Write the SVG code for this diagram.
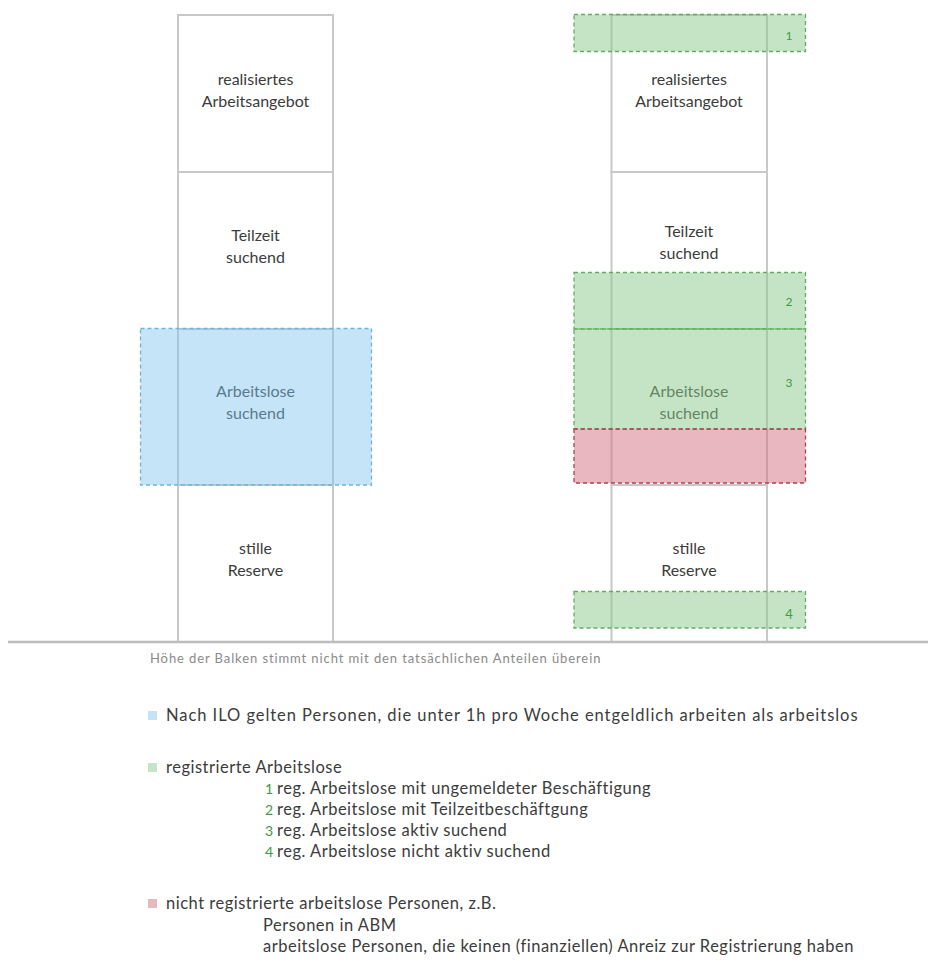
<svg xmlns="http://www.w3.org/2000/svg" width="928" height="965" viewBox="0 0 928 965">
<style>
  .bar{fill:#ffffff;stroke:#c8c8c8;stroke-width:2}
  .lbl{font-family:Lato,"Open Sans","Liberation Sans",sans-serif;font-size:16px;fill:#3c3c3c;text-anchor:middle}
  .blue{fill:#7ec4ef;fill-opacity:0.45;stroke:#6fb3e0;stroke-width:1.3;stroke-dasharray:4 3}
  .green{fill:#8cc98c;fill-opacity:0.5;stroke:#5fae5f;stroke-width:1.3;stroke-dasharray:4 3}
  .red{fill:#d4707f;fill-opacity:0.5;stroke:#b04050;stroke-width:1.3;stroke-dasharray:4 3}
  .num{font-family:Lato,"Open Sans","Liberation Sans",sans-serif;font-size:12px;fill:#3f9a3f;text-anchor:middle}
  .leg{font-family:Lato,"Open Sans","Liberation Sans",sans-serif;font-size:16.5px;letter-spacing:0.5px;fill:#3c3c3c}
  .lnum{font-family:Lato,"Open Sans","Liberation Sans",sans-serif;font-size:14px;fill:#3f9a3f}
  .cap{font-family:Lato,"Open Sans","Liberation Sans",sans-serif;font-size:13px;letter-spacing:0.9px;fill:#8a8a8a}
</style>

<g id="left-bar">
  <rect class="bar" x="178" y="15" width="155" height="157"/>
  <rect class="bar" x="178" y="172" width="155" height="157"/>
  <rect class="bar" x="178" y="329" width="155" height="156"/>
  <rect class="bar" x="178" y="485" width="155" height="157"/>
  <text class="lbl" x="255.5" y="85">realisiertes</text>
  <text class="lbl" x="255.5" y="107">Arbeitsangebot</text>
  <text class="lbl" x="255.5" y="241">Teilzeit</text>
  <text class="lbl" x="255.5" y="263">suchend</text>
  <text class="lbl" x="255.5" y="397">Arbeitslose</text>
  <text class="lbl" x="255.5" y="419">suchend</text>
  <text class="lbl" x="255.5" y="554">stille</text>
  <text class="lbl" x="255.5" y="576">Reserve</text>
</g>

<g id="right-bar">
  <rect class="bar" x="611.5" y="15" width="155.5" height="157"/>
  <rect class="bar" x="611.5" y="172" width="155.5" height="157"/>
  <rect class="bar" x="611.5" y="329" width="155.5" height="156"/>
  <rect class="bar" x="611.5" y="485" width="155.5" height="157"/>
  <text class="lbl" x="689" y="85">realisiertes</text>
  <text class="lbl" x="689" y="107">Arbeitsangebot</text>
  <text class="lbl" x="689" y="237">Teilzeit</text>
  <text class="lbl" x="689" y="259">suchend</text>
  <text class="lbl" x="689" y="397">Arbeitslose</text>
  <text class="lbl" x="689" y="419">suchend</text>
  <text class="lbl" x="689" y="554">stille</text>
  <text class="lbl" x="689" y="576">Reserve</text>
</g>

<g id="ilo-box">
  <rect class="blue" x="140.5" y="328.5" width="231" height="156.5"/>
</g>

<g id="reg-1">
  <rect class="green" x="574" y="14.5" width="231.5" height="37"/>
  <text class="num" x="789" y="40">1</text>
</g>
<g id="reg-2">
  <rect class="green" x="574" y="272.5" width="231.5" height="56.5"/>
  <text class="num" x="789" y="306">2</text>
</g>
<g id="reg-3">
  <rect class="green" x="574" y="329" width="231.5" height="100"/>
  <text class="num" x="789" y="387">3</text>
</g>
<g id="not-registered">
  <rect class="red" x="574" y="429" width="231.5" height="54"/>
</g>
<g id="reg-4">
  <rect class="green" x="574" y="591.5" width="231.5" height="36.5"/>
  <text class="num" x="789" y="619" style="font-size:13px">4</text>
</g>

<g id="connectors">
  <line x1="8" y1="642" x2="928" y2="642" stroke="#bdbdbd" stroke-width="2.5"/>
</g>

<g id="caption">
  <text class="cap" x="150" y="663">Höhe der Balken stimmt nicht mit den tatsächlichen Anteilen überein</text>
</g>

<g id="legend-ilo">
  <rect x="148" y="711" width="9" height="9" fill="#c5e3f6"/>
  <text class="leg" x="166" y="721" style="letter-spacing:0.95px">Nach ILO gelten Personen, die unter 1h pro Woche entgeldlich arbeiten als arbeitslos</text>
</g>

<g id="legend-registered">
  <rect x="148" y="763" width="9" height="9" fill="#c6e4c6"/>
  <text class="leg" x="166" y="773">registrierte Arbeitslose</text>
  <text class="lnum" x="265" y="794">1</text>
  <text class="leg" x="277" y="794">reg. Arbeitslose mit ungemeldeter Beschäftigung</text>
  <text class="lnum" x="265" y="815">2</text>
  <text class="leg" x="277" y="815">reg. Arbeitslose mit Teilzeitbeschäftgung</text>
  <text class="lnum" x="265" y="836">3</text>
  <text class="leg" x="277" y="836">reg. Arbeitslose aktiv suchend</text>
  <text class="lnum" x="265" y="857">4</text>
  <text class="leg" x="277" y="857">reg. Arbeitslose nicht aktiv suchend</text>
</g>

<g id="legend-not-registered">
  <rect x="148" y="899" width="9" height="9" fill="#e6b8c0"/>
  <text class="leg" x="166" y="909">nicht registrierte arbeitslose Personen, z.B.</text>
  <text class="leg" x="263" y="931">Personen in ABM</text>
  <text class="leg" x="263" y="952">arbeitslose Personen, die keinen (finanziellen) Anreiz zur Registrierung haben</text>
</g>
</svg>
